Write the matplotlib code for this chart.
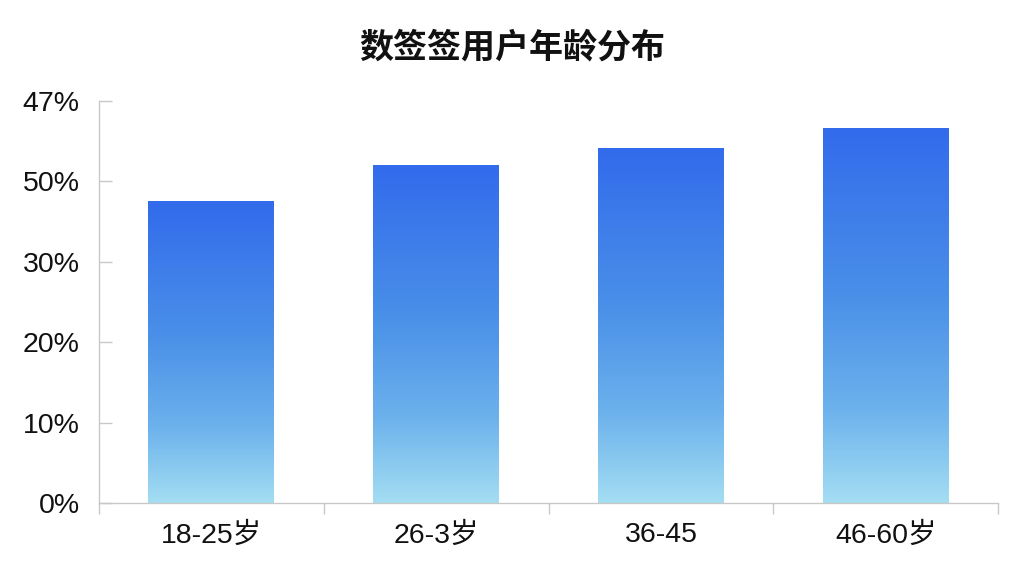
import matplotlib
matplotlib.use("Agg")
import matplotlib.pyplot as plt
import numpy as np
from matplotlib.colors import LinearSegmentedColormap

categories = ["18-25岁", "26-3岁", "36-45", "46-60岁"]
values = [37.6, 42.0, 44.2, 46.6]
ytick_values = [0, 10, 20, 30, 40, 50]
ytick_labels = ["0%", "10%", "20%", "30%", "50%", "47%"]
title = "数签签用户年龄分布"

fam = ["Liberation Sans", "Noto Sans CJK SC", "DejaVu Sans"]
plt.rcParams["font.family"] = fam

fig = plt.figure(figsize=(10.24, 5.76), dpi=100)
ax = fig.add_axes([0.0967, 0.1267, 0.878, 0.698])

cmap = LinearSegmentedColormap.from_list(
    "grad", [(0.0, "#a4def3"), (0.25, "#6cb2ec"), (0.55, "#4a90e8"), (1.0, "#326bec")])

bar_w = 0.56
x = np.arange(len(categories))
bars = ax.bar(x, values, width=bar_w, color="none", edgecolor="none", zorder=2)
grad = np.linspace(0, 1, 256).reshape(-1, 1)
for b in bars:
    x0, y0 = b.get_x(), b.get_y()
    w, h = b.get_width(), b.get_height()
    im = ax.imshow(grad, cmap=cmap, origin="lower", aspect="auto",
                   extent=[x0, x0 + w, y0, y0 + h], zorder=2)
    im.set_clip_path(b)

ax.set_xlim(-0.5, len(categories) - 0.5)
ax.set_ylim(0, 50)

ax.set_yticks(ytick_values)
ax.set_yticklabels(ytick_labels, fontsize=20.5, color="#111111")
ax.tick_params(axis="y", direction="in", length=9, width=1, color="#c8c8c8", pad=14)

ax.set_xticks(x)
ax.set_xticklabels(categories, fontsize=20.5, color="#111111")
ax.tick_params(axis="x", which="major", length=0, pad=14)
ax.set_xticks(np.arange(-0.5, len(categories)), minor=True)
ax.tick_params(axis="x", which="minor", direction="out", length=8, width=1, color="#c8c8c8")

for s in ["top", "right"]:
    ax.spines[s].set_visible(False)
for s in ["left", "bottom"]:
    ax.spines[s].set_color("#c8c8c8")
    ax.spines[s].set_linewidth(1)

fig.text(0.5, 0.918, title, ha="center", va="center", fontsize=24.5,
         fontweight="bold", family=["Noto Sans CJK SC", "DejaVu Sans"], color="#111111")

fig.savefig("out.png", dpi=100, facecolor="white")
